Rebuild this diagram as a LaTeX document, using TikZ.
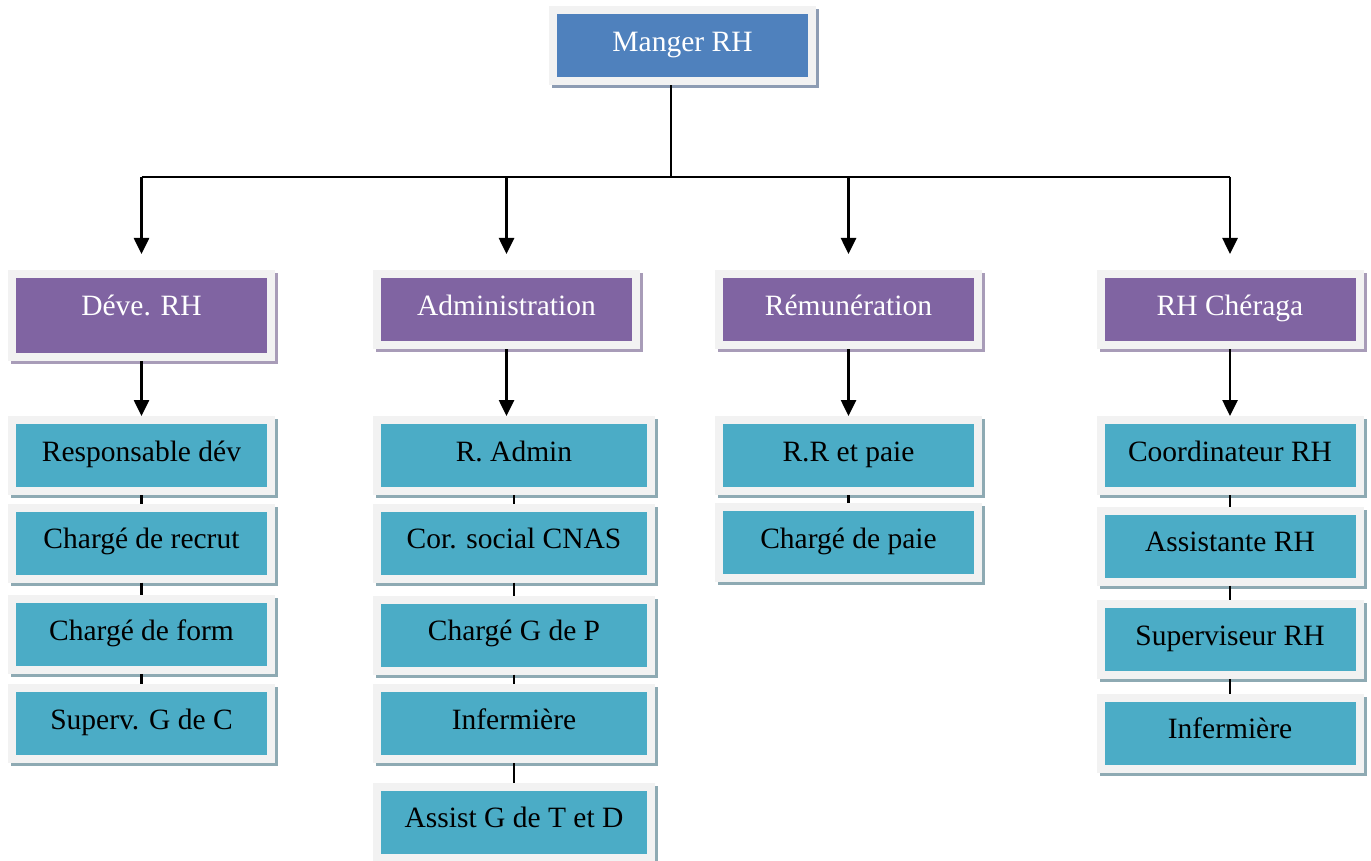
\documentclass[tikz,border=0pt]{standalone}
\usepackage{fontspec}
\setmainfont{Liberation Serif}
\usetikzlibrary{arrows.meta}
\definecolor{mgrblue}{HTML}{4F81BD}
\definecolor{dirpurple}{HTML}{8064A2}
\definecolor{postteal}{HTML}{4BACC6}
\definecolor{framegray}{HTML}{F2F2F2}
\definecolor{mgrshadow}{HTML}{8D9CB3}
\definecolor{dirshadow}{HTML}{A89CB8}
\definecolor{postshadow}{HTML}{8EAAB3}
\tikzset{
  box/.style={draw=framegray, line width=8pt, inner sep=0pt,
    minimum width=259pt, minimum height=71pt, text height=21pt, text depth=10pt,
    font=\fontsize{29.5}{34}\selectfont,
    preaction={draw=#1, fill=#1, line width=8pt, transform canvas={shift={(3pt,-3pt)}}}},
  mgrbox/.style={box=mgrshadow, fill=mgrblue, text=white},
  dirbox/.style={box=dirshadow, fill=dirpurple, text=white},
  postbox/.style={box=postshadow, fill=postteal, text=black},
  arr/.style={line width=2.6pt, -{Triangle[width=15pt,length=16pt]}},
  link/.style={line width=2.2pt}
}
\begin{document}
\begin{tikzpicture}[x=1pt,y=-1pt]
    \useasboundingbox (0,0) rectangle (1371,861);
    % top
    \node[mgrbox] (mgr) at (682.5,46) {Manger RH};
    \coordinate (bus) at (671,177);
    % directions
    \node[dirbox, minimum height=83pt, text depth=22pt] (dev) at (141.5,315.5) {Déve. RH};
    \node[dirbox] (admin) at (506.5,309.5) {Administration};
    \node[dirbox] (remun) at (848.5,309.5) {Rémunération};
    \node[dirbox] (cheraga) at (1230,309.5) {RH Chéraga};
    % Déve. RH
    \node[postbox] (resp) at (141.5,455.5) {Responsable dév};
    \node[postbox] (recrut) at (141.5,543) {Chargé de recrut};
    \node[postbox] (form) at (141.5,634.5) {Chargé de form};
    \node[postbox] (superv) at (141.5,723.5) {Superv. G de C};
    % Administration
    \node[postbox, minimum width=274pt] (radmin) at (514,455.5) {R. Admin};
    \node[postbox, minimum width=274pt] (cnas) at (514,543) {Cor. social CNAS};
    \node[postbox, minimum width=274pt] (gdp) at (514,635) {Chargé G de P};
    \node[postbox, minimum width=274pt] (inf) at (514,723.5) {Infermière};
    \node[postbox, minimum width=274pt] (assist) at (514,822) {Assist G de T et D};
    % Rémunération
    \node[postbox] (rrpaie) at (848.5,455.5) {R.R et paie};
    \node[postbox] (paie) at (848.5,542.5) {Chargé de paie};
    % RH Chéraga
    \node[postbox] (coord) at (1230,455.5) {Coordinateur RH};
    \node[postbox] (assistante) at (1230,546) {Assistante RH};
    \node[postbox] (supervrh) at (1230,639.5) {Superviseur RH};
    \node[postbox] (infrh) at (1230,733) {Infermière};
    % connectors
    \draw[line width=2.4pt] (mgr.south -| bus) -- (bus);
    \draw[line width=2.4pt] (bus -| dev) -- (bus -| cheraga);
    \foreach \d in {dev,admin,remun,cheraga}
        \draw[arr, shorten >=16pt] (bus -| \d) -- (\d.north);
    \draw[arr] (dev.south) -- (dev.south |- resp.north);
    \draw[arr] (admin.south) -- (admin.south |- radmin.north);
    \draw[arr] (remun.south) -- (remun.south |- rrpaie.north);
    \draw[arr] (cheraga.south) -- (cheraga.south |- coord.north);
    \draw[link] (resp) -- (recrut) (recrut) -- (form) (form) -- (superv);
    \draw[link] (radmin) -- (cnas) (cnas) -- (gdp) (gdp) -- (inf) (inf) -- (assist);
    \draw[link] (rrpaie) -- (paie);
    \draw[link] (coord) -- (assistante) (assistante) -- (supervrh) (supervrh) -- (infrh);
\end{tikzpicture}
\end{document}
